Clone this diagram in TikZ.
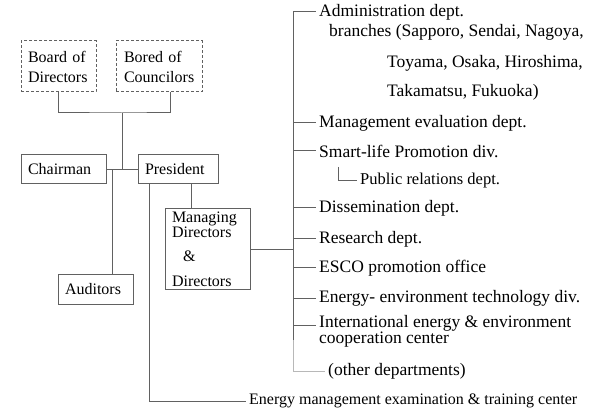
\documentclass[tikz,border=0pt]{standalone}
\usepackage{fontspec}
\setmainfont{Liberation Serif}
\usetikzlibrary{calc}
\definecolor{linegray}{rgb}{0.38,0.38,0.38}
\definecolor{palegray}{rgb}{0.72,0.72,0.72}
\newcommand{\boxfont}{\fontsize{16}{20}\selectfont}
\newcommand{\deptfont}{\fontsize{17.5}{20}\selectfont}

\begin{document}
\begin{tikzpicture}[x=1pt,y=-1pt,
  unit/.style={draw=linegray,line width=1pt,inner xsep=7pt,inner ysep=0pt,align=left,font=\boxfont},
  boardbox/.style={unit,dash pattern=on 3pt off 2pt},
  dept/.style={anchor=west,inner sep=3pt,font=\deptfont},
  tie/.style={linegray,line width=1pt}]
\useasboundingbox (0,0) rectangle (600,414);
%boards
\node[boardbox,text width=61pt,minimum height=51pt] (bdir) at (58.5,66.5) {Board of\\Directors};
\node[boardbox,inner xsep=8pt,text width=70pt,minimum height=51pt] (bcou) at (159,66.5) {Bored of\\Councilors};
%officers
\node[unit,text width=71pt,minimum height=29pt] (chair) at (63.5,169.5) {Chairman};
\node[unit,text width=66pt,minimum height=29pt] (pres) at (178,169.5) {President};
\node[unit,text width=61pt,minimum height=29pt] (aud) at (95.5,289.5) {Auditors};
\node[unit,text width=71pt,minimum height=81pt,font=\fontsize{16}{12}\selectfont] (mgr) at (207.5,249.5)
  {Managing\\Directors\\[12pt]\hspace*{11pt}\&\\[13pt]Directors};
%departments
\node[dept] (adm) at (316,12) {Administration dept.};
\node[dept] (br1) at (326,32) {branches (Sapporo, Sendai, Nagoya,};
\node[dept] (br2) at (384,63) {Toyama, Osaka, Hiroshima,};
\node[dept] (br3) at (384,92) {Takamatsu, Fukuoka)};
\node[dept] (mev) at (316,123) {Management evaluation dept.};
\node[dept] (smart) at (316,151) {Smart-life Promotion div.};
\node[dept,font=\fontsize{16.5}{18}\selectfont] (pr) at (357,181) {Public relations dept.};
\node[dept] (diss) at (316,208) {Dissemination dept.};
\node[dept] (res) at (316,239) {Research dept.};
\node[dept] (esco) at (316,268) {ESCO promotion office};
\node[dept] (env) at (316,298) {Energy- environment technology div.};
\node[dept,align=left,font=\fontsize{17.5}{12.5}\selectfont] (intl) at (316,331) {International energy \& environment\\cooperation center};
\node[dept] (other) at (325,371) {(other departments)};
\node[dept,font=\boxfont] (exam) at (246,401) {Energy management examination \& training center};
%lines
\coordinate (hub) at (122,113);
\coordinate (sp) at (293,0);
\coordinate (spend) at (293,340);
\coordinate (prtop) at (338,167);
\draw[tie] (bdir.south) |- (hub) -| ([xshift=11pt]bcou.south);
\draw[tie] (hub) -- (hub |- chair.east);
\draw[tie] (chair.east) -- (pres.west);
\draw[tie] ([xshift=6pt]chair.east) -- ([xshift=6pt]chair.east |- aud.north);
\draw[tie] ([xshift=-29pt]pres.south) |- (exam.west);
\draw[tie] ([xshift=13pt]pres.south) -- ([xshift=13pt]pres.south |- mgr.north);
\draw[tie] (mgr.east) -- (mgr.east -| sp);
\draw[tie] (adm.west -| sp) -- (spend);
\foreach \d in {adm,mev,smart,diss,res,esco,env}
  \draw[tie] (\d.west -| sp) -- (\d.west);
\draw[tie] ([yshift=6pt]intl.west -| sp) -- ([yshift=6pt]intl.west);
\draw[tie] (prtop) |- (pr.west);
\draw[palegray,line width=1pt] (spend) |- (other.west);
\end{tikzpicture}
\end{document}
